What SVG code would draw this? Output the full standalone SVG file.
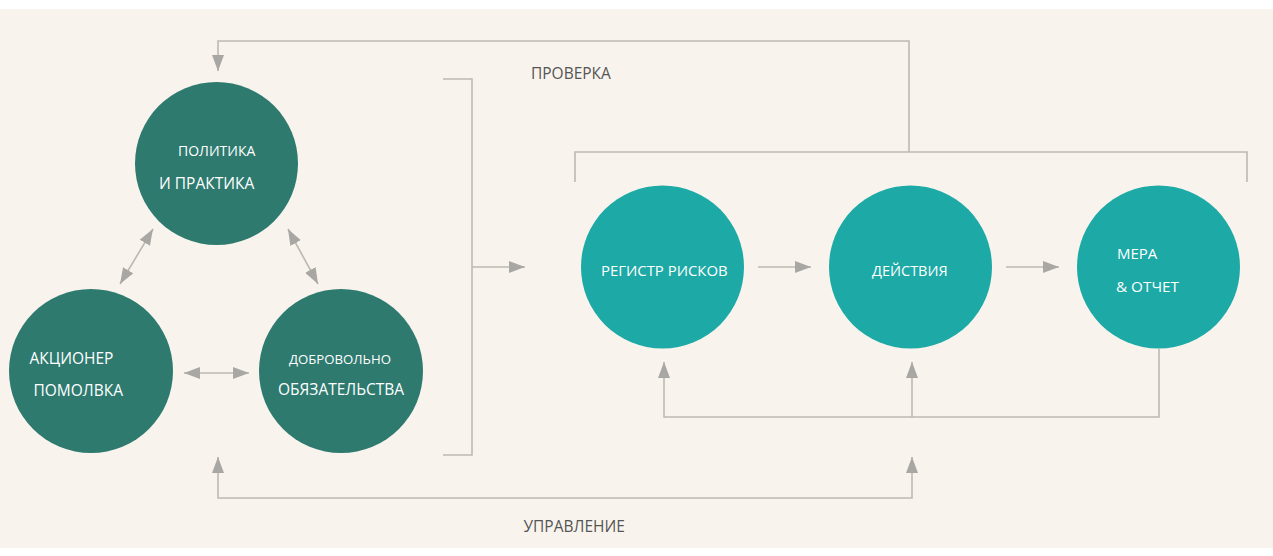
<svg xmlns="http://www.w3.org/2000/svg" width="1273" height="556" viewBox="0 0 1273 556">
<style>
.ln{fill:none;stroke:#bcb8b2;stroke-width:1.6}
.dk{fill:#2e7a6f}
.tl{fill:#1da9a6}
.w{fill:#ffffff;font-family:"Open Sans","Liberation Sans",sans-serif}
.lb{fill:#555555;font-family:"Open Sans","Liberation Sans",sans-serif;font-size:15.5px}
</style>
<defs>
<marker id="ah" markerUnits="userSpaceOnUse" markerWidth="18" markerHeight="14" refX="16" refY="6" orient="auto-start-reverse" viewBox="0 0 18 12">
<path d="M0,0 L16,6 L0,12 Z" fill="#a9a7a3"/>
</marker>
</defs>
<rect x="0" y="0" width="1273" height="556" fill="#ffffff"/>
<rect x="0" y="9" width="1273" height="539" fill="#f8f4ed"/>

<g id="connectors">
<polyline class="ln" points="909,152 909,41 218,41 218,71" marker-end="url(#ah)"/>
<polyline class="ln" points="575,182 575,152 1247,152 1247,182"/>
<polyline class="ln" points="443,79 472,79 472,455 443,455"/>
<line class="ln" x1="472" y1="267" x2="525" y2="267" marker-end="url(#ah)"/>
<polyline class="ln" points="218,457 218,498 912,498 912,457" marker-start="url(#ah)" marker-end="url(#ah)"/>
<polyline class="ln" points="1159,349 1159,417 664,417 664,362" marker-end="url(#ah)"/>
<line class="ln" x1="912" y1="417" x2="912" y2="362" marker-end="url(#ah)"/>
<line class="ln" x1="758" y1="267" x2="811" y2="267" marker-end="url(#ah)"/>
<line class="ln" x1="1006" y1="267" x2="1059" y2="267" marker-end="url(#ah)"/>
<line class="ln" x1="153" y1="229" x2="120" y2="284" marker-start="url(#ah)" marker-end="url(#ah)"/>
<line class="ln" x1="288" y1="229" x2="318" y2="284" marker-start="url(#ah)" marker-end="url(#ah)"/>
<line class="ln" x1="184" y1="373" x2="249" y2="373" marker-start="url(#ah)" marker-end="url(#ah)"/>
</g>

<g id="label-proverka"><text class="lb" x="531" y="78.5">ПРОВЕРКА</text></g>
<g id="label-upravlenie"><text class="lb" x="523.5" y="531.5">УПРАВЛЕНИЕ</text></g>

<g id="node-politika">
<circle class="dk" cx="216.5" cy="163.5" r="81.5"/>
<text class="w" x="178" y="155.5" font-size="14">ПОЛИТИКА</text>
<text class="w" x="159" y="188.5" font-size="15.5">И ПРАКТИКА</text>
</g>
<g id="node-akcioner">
<circle class="dk" cx="91" cy="371" r="82"/>
<text class="w" x="29.5" y="364" font-size="15.5">АКЦИОНЕР</text>
<text class="w" x="33.5" y="395.5" font-size="15.5">ПОМОЛВКА</text>
</g>
<g id="node-dobrovolno">
<circle class="dk" cx="341" cy="371" r="82"/>
<text class="w" x="289" y="363.5" font-size="13.2">ДОБРОВОЛЬНО</text>
<text class="w" x="278" y="395" font-size="15.5">ОБЯЗАТЕЛЬСТВА</text>
</g>
<g id="node-registr">
<circle class="tl" cx="662.5" cy="267" r="81.5"/>
<text class="w" x="601" y="275.5" font-size="14.9">РЕГИСТР РИСКОВ</text>
</g>
<g id="node-deistviya">
<circle class="tl" cx="910.5" cy="267" r="81.5"/>
<text class="w" x="872" y="275.5" font-size="14.5">ДЕЙСТВИЯ</text>
</g>
<g id="node-mera">
<circle class="tl" cx="1158.5" cy="267" r="81.5"/>
<text class="w" x="1117" y="259" font-size="15">МЕРА</text>
<text class="w" x="1116" y="291.5" font-size="15.3">&amp; ОТЧЕТ</text>
</g>
</svg>
